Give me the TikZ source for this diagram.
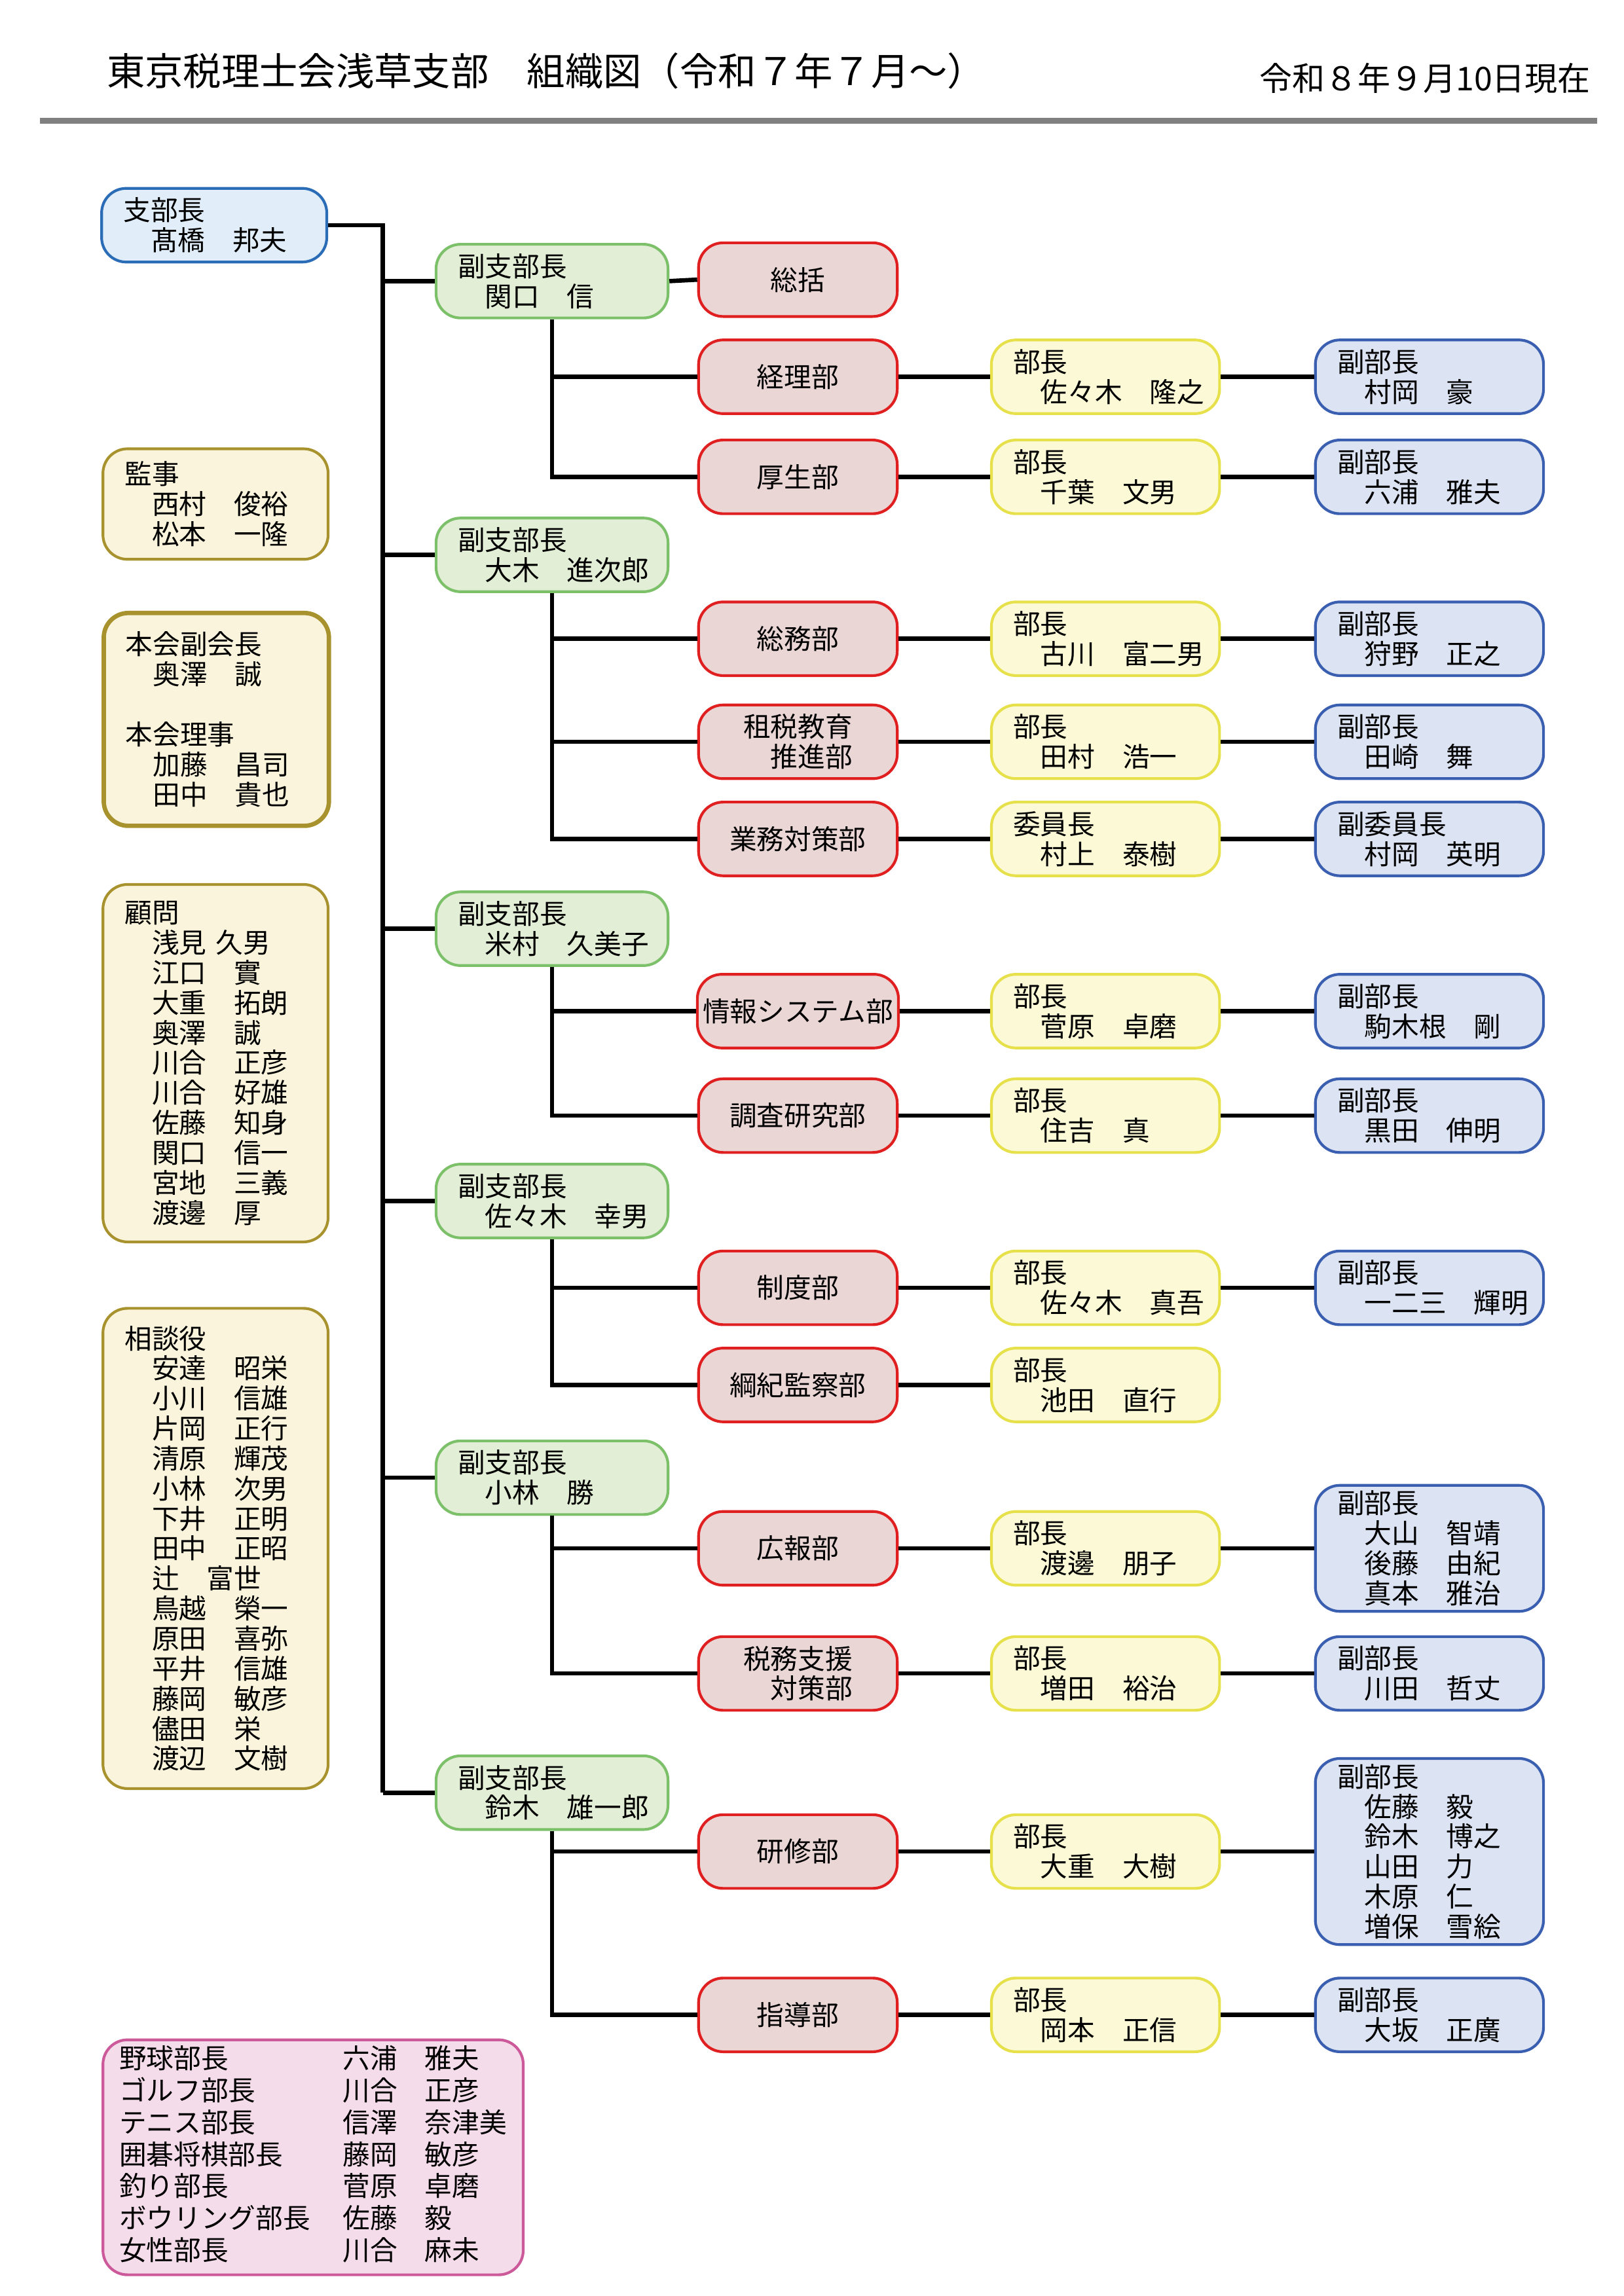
\documentclass[tikz,border=0pt]{standalone}
\usepackage{fontspec}
\setmainfont{Noto Sans CJK JP}
\usetikzlibrary{shapes, arrows}
\definecolor{chiefFill}{HTML}{E1EEFA}
\definecolor{chiefLine}{HTML}{2A6CB5}
\definecolor{viceFill}{HTML}{E2EED5}
\definecolor{viceLine}{HTML}{7CC16A}
\definecolor{deptFill}{HTML}{EBD6D6}
\definecolor{deptLine}{HTML}{E02020}
\definecolor{headFill}{HTML}{FBF9D6}
\definecolor{headLine}{HTML}{E6E04A}
\definecolor{subFill}{HTML}{DCE3F2}
\definecolor{subLine}{HTML}{3A5FB0}
\definecolor{sideFill}{HTML}{FAF4DC}
\definecolor{sideLine}{HTML}{A8922E}
\definecolor{clubFill}{HTML}{F5DCEA}
\definecolor{clubLine}{HTML}{CC5A9A}
\tikzstyle{box} = [rectangle, draw, line width=1pt, rounded corners=9pt,
    font=\fontsize{10}{11}\selectfont, inner sep=2pt]
\tikzstyle{vice} = [box, fill=viceFill, draw=viceLine, text width=69pt,
    align=left, minimum height=27pt, inner xsep=8pt]
\tikzstyle{dept} = [box, fill=deptFill, draw=deptLine, minimum width=72.8pt,
    minimum height=27pt, align=center]
\tikzstyle{head} = [box, fill=headFill, draw=headLine, text width=67.6pt,
    align=left, minimum height=27pt, inner xsep=8pt]
\tikzstyle{sub} = [box, fill=subFill, draw=subLine, text width=67.6pt,
    align=left, minimum height=27pt, inner xsep=8pt]
\tikzstyle{side} = [box, fill=sideFill, draw=sideLine, text width=66.5pt,
    align=left, inner xsep=8pt, anchor=north west]
\tikzstyle{line} = [draw, line width=1.6pt]
\begin{document}
\begin{tikzpicture}[x=0.5394pt, y=-0.5394pt]
        \useasboundingbox (0,0) rectangle (1103,1560);
        % Title
        \node [anchor=west, font=\fontsize{14}{16}\selectfont] (title) at (66,48) {東京税理士会浅草支部　組織図（令和７年７月〜）};
        \node [anchor=east, font=\fontsize{12}{14}\selectfont] (date) at (1087,53) {令和８年９月10日現在};
        \coordinate (ruleL) at (27,82);
        \coordinate (ruleR) at (1085,82);
        \draw [line width=2pt, gray] (ruleL) -- (ruleR);
        % Left column
        \node [box, fill=chiefFill, draw=chiefLine, text width=66.5pt, align=left, inner xsep=8pt, minimum height=27pt] (chief) at (145.5,153) {支部長\\　髙橋　邦夫};
        \node [side, minimum height=40.5pt] (kanji) at (69,304) {監事\\　西村　俊裕\\　松本　一隆};
        \node [side, line width=1.6pt, minimum height=78pt] (honkai) at (69,415) {本会副会長\\　奥澤　誠\\[11pt]本会理事\\　加藤　昌司\\　田中　貴也};
        \node [side, minimum height=131pt] (komon) at (69,600) {顧問\\　浅見 久男\\　江口　實\\　大重　拓朗\\　奥澤　誠\\　川合　正彦\\　川合　好雄\\　佐藤　知身\\　関口　信一\\　宮地　三義\\　渡邊　厚};
        \node [side, minimum height=176pt] (sodan) at (69,888) {相談役\\　安達　昭栄\\　小川　信雄\\　片岡　正行\\　清原　輝茂\\　小林　次男\\　下井　正明\\　田中　正昭\\　辻　富世\\　鳥越　榮一\\　原田　喜弥\\　平井　信雄\\　藤岡　敏彦\\　儘田　栄\\　渡辺　文樹};
        \node [box, fill=clubFill, draw=clubLine, anchor=north west, minimum width=149.4pt, minimum height=86pt, inner xsep=6pt] (club) at (69,1385)
            {\begin{tabular}{@{}l@{\hspace{1.2em}}l@{}}
             野球部長 & 六浦　雅夫\\ ゴルフ部長 & 川合　正彦\\ テニス部長 & 信澤　奈津美\\
             囲碁将棋部長 & 藤岡　敏彦\\ 釣り部長 & 菅原　卓磨\\ ボウリング部長 & 佐藤　毅\\
             女性部長 & 川合　麻未\end{tabular}};
        % Vice heads
        \node [vice] (vice1) at (375,191) {副支部長\\　関口　信};
        \node [vice] (vice2) at (375,377) {副支部長\\　大木　進次郎};
        \node [vice] (vice3) at (375,631) {副支部長\\　米村　久美子};
        \node [vice] (vice4) at (375,816) {副支部長\\　佐々木　幸男};
        \node [vice] (vice5) at (375,1004) {副支部長\\　小林　勝};
        \node [vice] (vice6) at (375,1218) {副支部長\\　鈴木　雄一郎};
        % Departments
        \node [dept] (d1) at (542,190) {総括};
        \node [dept] (d2) at (542,256) {経理部};
        \node [dept] (d3) at (542,324) {厚生部};
        \node [dept] (d4) at (542,434) {総務部};
        \node [dept] (d5) at (542,504) {租税教育\\　推進部};
        \node [dept] (d6) at (542,570) {業務対策部};
        \node [dept] (d7) at (542,687) {情報システム部};
        \node [dept] (d8) at (542,758) {調査研究部};
        \node [dept] (d9) at (542,875) {制度部};
        \node [dept] (d10) at (542,941) {綱紀監察部};
        \node [dept] (d11) at (542,1052) {広報部};
        \node [dept] (d12) at (542,1137) {税務支援\\　対策部};
        \node [dept] (d13) at (542,1258) {研修部};
        \node [dept] (d14) at (542,1369) {指導部};
        % Heads
        \tikzset{node distance=112.7pt}
        \node [head, right of=d2] (h2) {部長\\　佐々木　隆之};
        \node [head, right of=d3] (h3) {部長\\　千葉　文男};
        \node [head, right of=d4] (h4) {部長\\　古川　富二男};
        \node [head, right of=d5] (h5) {部長\\　田村　浩一};
        \node [head, right of=d6] (h6) {委員長\\　村上　泰樹};
        \node [head, right of=d7] (h7) {部長\\　菅原　卓磨};
        \node [head, right of=d8] (h8) {部長\\　住吉　真};
        \node [head, right of=d9] (h9) {部長\\　佐々木　真吾};
        \node [head, right of=d10] (h10) {部長\\　池田　直行};
        \node [head, right of=d11] (h11) {部長\\　渡邊　朋子};
        \node [head, right of=d12] (h12) {部長\\　増田　裕治};
        \node [head, right of=d13] (h13) {部長\\　大重　大樹};
        \node [head, right of=d14] (h14) {部長\\　岡本　正信};
        % Deputies
        \tikzset{node distance=118.7pt}
        \node [sub, right of=h2] (s2) {副部長\\　村岡　豪};
        \node [sub, right of=h3] (s3) {副部長\\　六浦　雅夫};
        \node [sub, right of=h4] (s4) {副部長\\　狩野　正之};
        \node [sub, right of=h5] (s5) {副部長\\　田崎　舞};
        \node [sub, right of=h6] (s6) {副委員長\\　村岡　英明};
        \node [sub, right of=h7] (s7) {副部長\\　駒木根　剛};
        \node [sub, right of=h8] (s8) {副部長\\　黒田　伸明};
        \node [sub, right of=h9] (s9) {副部長\\　一二三　輝明};
        \node [sub, right of=h11] (s11) {副部長\\　大山　智靖\\　後藤　由紀\\　真本　雅治};
        \node [sub, right of=h12] (s12) {副部長\\　川田　哲丈};
        \node [sub, right of=h13] (s13) {副部長\\　佐藤　毅\\　鈴木　博之\\　山田　力\\　木原　仁\\　増保　雪絵};
        \node [sub, right of=h14] (s14) {副部長\\　大坂　正廣};
        % Draw edges
        \coordinate (trunk) at (260,1218);
        \path [line] (chief.east) -| (trunk);
        \foreach \v in {vice1,vice2,vice3,vice4,vice5,vice6}
            \path [line] (\v.west) -- (\v.west -| trunk);
        \path [line] (vice1.east) -- (d1.west);
        \path [line] (vice1.south) |- (d2.west);
        \path [line] (vice1.south) |- (d3.west);
        \path [line] (vice2.south) |- (d4.west);
        \path [line] (vice2.south) |- (d5.west);
        \path [line] (vice2.south) |- (d6.west);
        \path [line] (vice3.south) |- (d7.west);
        \path [line] (vice3.south) |- (d8.west);
        \path [line] (vice4.south) |- (d9.west);
        \path [line] (vice4.south) |- (d10.west);
        \path [line] (vice5.south) |- (d11.west);
        \path [line] (vice5.south) |- (d12.west);
        \path [line] (vice6.south) |- (d13.west);
        \path [line] (vice6.south) |- (d14.west);
        \foreach \i in {2,...,14}
            \path [line] (d\i.east) -- (h\i.west);
        \foreach \i in {2,3,4,5,6,7,8,9,11,12,13,14}
            \path [line] (h\i.east) -- (s\i.west);
    \end{tikzpicture}
\end{document}
